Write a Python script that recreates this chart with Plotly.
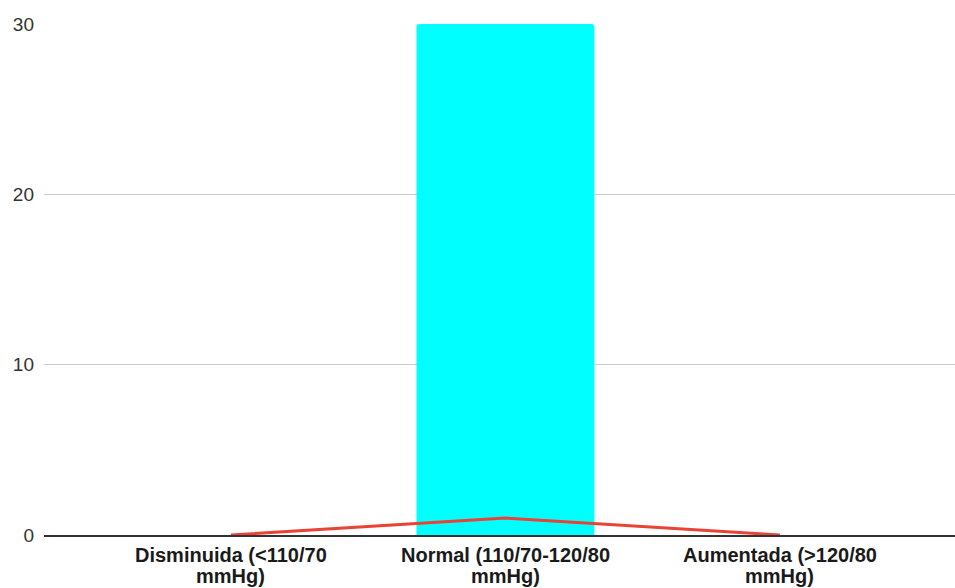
import plotly.graph_objects as go

category_lines = [
    ("Disminuida (<110/70", "mmHg)"),
    ("Normal (110/70-120/80", "mmHg)"),
    ("Aumentada (>120/80", "mmHg)"),
]
bar_values = [0, 30, 0]
line_values = [0, 1, 0]
y_ticks = [0, 10, 20, 30]

x_pos = list(range(len(category_lines)))

fig = go.Figure()
fig.add_trace(go.Bar(
    x=x_pos, y=bar_values, width=0.648,
    marker=dict(color="#00FFFF", line=dict(width=0)),
    showlegend=False,
))
fig.add_trace(go.Scatter(
    x=x_pos, y=line_values, mode="lines",
    line=dict(color="#EA4335", width=3),
    showlegend=False,
))

plot_h = 588 - 24 - 53
label_font = dict(family="Liberation Sans, Arial, sans-serif", size=20, color="#1a1a1a", weight="bold")

# Two-line category labels, placed with tight line spacing below the axis
for xi, (first, second) in zip(x_pos, category_lines):
    for text, offset in ((first, 20), (second, 41)):
        fig.add_annotation(
            x=xi, xref="x", y=-offset / plot_h, yref="paper",
            text=text, showarrow=False, font=label_font,
            xanchor="center", yanchor="middle",
        )

fig.update_layout(
    width=955, height=588,
    margin=dict(l=44, r=0, t=24, b=53),
    paper_bgcolor="white", plot_bgcolor="white",
    barcornerradius=3,
    font=dict(family="Liberation Sans, Arial, sans-serif"),
    xaxis=dict(
        range=[-0.681, 2.638],
        tickvals=x_pos, showticklabels=False,
        showgrid=False, zeroline=False,
        showline=True, linecolor="#333333", linewidth=1.5,
        ticks="", fixedrange=True,
    ),
    yaxis=dict(
        range=[0, 30],
        tickvals=y_ticks,
        tickfont=dict(size=19, color="#333333"),
        showgrid=True, gridcolor="#CCCCCC", gridwidth=1,
        zeroline=False, ticks="", ticklabelstandoff=9,
    ),
)

fig.write_html("out.html")
